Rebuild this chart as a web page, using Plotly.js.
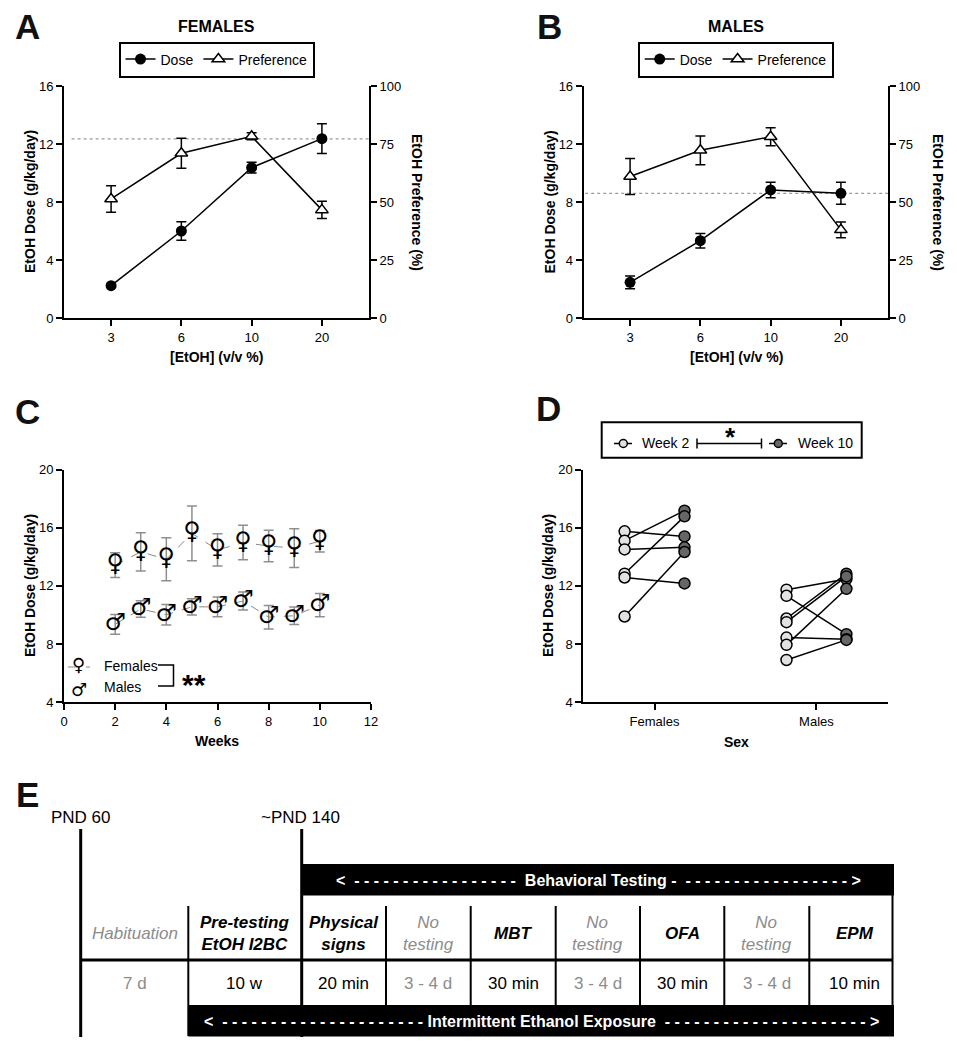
<!DOCTYPE html>
<html>
<head>
<meta charset="utf-8">
<script src="https://cdn.plot.ly/plotly-3.0.1.min.js"></script>
<style>
  html, body { margin: 0; padding: 0; background: #ffffff; }
  #chart { width: 957px; height: 1050px; }
</style>
</head>
<body>
<div id="chart"></div>
<script>
// ---------------- DATA ----------------
// Panels A & B: two-bottle choice by concentration
const concentrations = ['3', '6', '10', '20'];
const femaleDose = [2.23, 6.0, 10.37, 12.37];
const femaleDoseErr = [0, 0.63, 0.37, 1.03];
const femalePref = [51.3, 71.0, 78.3, 46.6];
const femalePrefErr = [5.7, 6.5, 1.5, 3.7];
const maleDose = [2.46, 5.33, 8.83, 8.6];
const maleDoseErr = [0.44, 0.5, 0.53, 0.76];
const malePref = [61.0, 72.3, 78.1, 38.0];
const malePrefErr = [7.8, 6.2, 3.9, 3.4];
const femaleRefDose = 12.35;
const maleRefDose = 8.6;

// Panel C: weekly intake
const weeks = [2, 3, 4, 5, 6, 7, 8, 9, 10];
const femaleWeekly = [13.43, 14.34, 13.83, 15.61, 14.47, 14.98, 14.74, 14.6, 15.07];
const femaleWeeklyErr = [0.85, 1.32, 1.48, 1.89, 1.11, 1.18, 1.08, 1.33, 0.74];
const maleWeekly = [9.36, 10.41, 10.02, 10.56, 10.56, 10.96, 9.85, 9.95, 10.68];
const maleWeeklyErr = [0.68, 0.57, 0.71, 0.56, 0.68, 0.62, 0.81, 0.6, 0.8];

// Panel D: individual week 2 vs week 10
const sexes = ['Females', 'Males'];
const femaleWeek2 = [15.75, 15.11, 14.51, 12.84, 12.58, 9.9];
const femaleWeek10 = [15.4, 17.17, 14.65, 16.78, 12.17, 14.33];
const maleWeek2 = [11.74, 11.32, 9.76, 9.51, 8.45, 7.95, 6.91];
const maleWeek10 = [12.47, 8.68, 12.84, 12.65, 8.34, 11.8, 8.29];
const weekLabels = ['Week 2', 'Week 10'];

// Panel E: timeline
const phases = ['Habituation', 'Pre-testing<br>EtOH I2BC', 'Physical<br>signs', 'No<br>testing', 'MBT',
                'No<br>testing', 'OFA', 'No<br>testing', 'EPM'];
const durations = ['7 d', '10 w', '20 min', '3 - 4 d', '30 min', '3 - 4 d', '30 min', '3 - 4 d', '10 min'];
const milestones = ['PND 60', '~PND 140'];
const bandLabels = ['Behavioral Testing', 'Intermittent Ethanol Exposure'];

// ---------------- HELPERS ----------------
const W = 957, H = 1050;
const PX = x => x / W;
const PY = y => 1 - y / H;
const FONT = 'Liberation Sans, Arial, sans-serif';
const GRAY_TXT = '#8c8c8c';
const GLYPH_FONT = { family: 'DejaVu Sans', size: 24, color: 'black', weight: 'bold' };
const LEG_GLYPH_FONT = { family: 'DejaVu Sans', size: 18, color: 'black', weight: 'bold' };

const traces = [];

function doseTraces(dose, doseErr, pref, prefErr, xa, yaDose, yaPref, legendId) {
  traces.push({
    type: 'scatter', mode: 'lines+markers', name: 'Dose', legend: legendId,
    x: concentrations, y: dose, xaxis: xa, yaxis: yaDose,
    line: { color: 'black', width: 1.5 },
    marker: { symbol: 'circle', size: 11, color: 'black' },
    error_y: { type: 'data', array: doseErr, visible: true, color: 'black', thickness: 1.5, width: 5 }
  });
  traces.push({
    type: 'scatter', mode: 'lines+markers', name: 'Preference', legend: legendId,
    x: concentrations, y: pref, xaxis: xa, yaxis: yaPref,
    line: { color: 'black', width: 1.5 },
    marker: { symbol: 'triangle-up', size: 11, color: 'white', line: { color: 'black', width: 1.5 } },
    error_y: { type: 'data', array: prefErr, visible: true, color: 'black', thickness: 1.5, width: 5 }
  });
}
doseTraces(femaleDose, femaleDoseErr, femalePref, femalePrefErr, 'x', 'y', 'y2', 'legend');
doseTraces(maleDose, maleDoseErr, malePref, malePrefErr, 'x2', 'y3', 'y4', 'legend2');

// Panel C
function weeklyTrace(vals, errs, glyph) {
  traces.push({
    type: 'scatter', mode: 'lines+text', showlegend: false,
    x: weeks, y: vals, xaxis: 'x3', yaxis: 'y5',
    text: vals.map(() => glyph), textposition: 'middle center',
    textfont: GLYPH_FONT,
    line: { color: '#888888', width: 1, dash: 'dash' },
    error_y: { type: 'data', array: errs, visible: true, color: '#8f8f8f', thickness: 1.5, width: 5 },
    cliponaxis: false
  });
}
weeklyTrace(femaleWeekly, femaleWeeklyErr, '\u2640');
weeklyTrace(maleWeekly, maleWeeklyErr, '\u2642');

// Panel D
const OFF = 0.185;
const pairX = [], pairY = [], w2x = [], w2y = [], w10x = [], w10y = [];
[[femaleWeek2, femaleWeek10], [maleWeek2, maleWeek10]].forEach((grp, gi) => {
  grp[0].forEach((v, i) => {
    pairX.push(gi - OFF, gi + OFF, null);
    pairY.push(v, grp[1][i], null);
    w2x.push(gi - OFF); w2y.push(v);
    w10x.push(gi + OFF); w10y.push(grp[1][i]);
  });
});
traces.push({ type: 'scatter', mode: 'lines', showlegend: false, x: pairX, y: pairY,
  xaxis: 'x4', yaxis: 'y6', line: { color: 'black', width: 1.5 }, connectgaps: false });
const W2C = '#e2e2e2', W10C = '#666666';
traces.push({ type: 'scatter', mode: 'markers', showlegend: false, name: weekLabels[0], x: w2x, y: w2y, xaxis: 'x4', yaxis: 'y6',
  marker: { size: 11, color: W2C, line: { color: 'black', width: 1.5 } } });
traces.push({ type: 'scatter', mode: 'markers', showlegend: false, name: weekLabels[1], x: w10x, y: w10y, xaxis: 'x4', yaxis: 'y6',
  marker: { size: 11, color: W10C, line: { color: 'black', width: 1.5 } } });

// ---------------- LAYOUT ----------------
const axBase = {
  showline: true, linecolor: 'black', linewidth: 2, ticks: 'outside', ticklen: 6, tickwidth: 2,
  tickcolor: 'black', showgrid: false, zeroline: false, tickfont: { size: 13, color: 'black', family: FONT },
  fixedrange: true
};
const yDomAB = [PY(318), PY(86)];
const yDomCD = [PY(702.3), PY(469.5)];

const layout = {
  width: W, height: H, margin: { l: 0, r: 0, t: 0, b: 0 },
  paper_bgcolor: 'white', plot_bgcolor: 'rgba(0,0,0,0)',
  font: { family: FONT, color: 'black', size: 14 },
  xaxis: Object.assign({}, axBase, { domain: [PX(64), PX(369)], anchor: 'y', type: 'category', range: [-0.67, 3.67] }),
  yaxis: Object.assign({}, axBase, { domain: yDomAB, anchor: 'x', range: [0, 16], dtick: 4, tick0: 0 }),
  yaxis2: Object.assign({}, axBase, { overlaying: 'y', side: 'right', anchor: 'x', range: [0, 100], dtick: 25, tick0: 0 }),
  xaxis2: Object.assign({}, axBase, { domain: [PX(583.7), PX(888)], anchor: 'y3', type: 'category', range: [-0.66, 3.67] }),
  yaxis3: Object.assign({}, axBase, { domain: yDomAB, anchor: 'x2', range: [0, 16], dtick: 4, tick0: 0 }),
  yaxis4: Object.assign({}, axBase, { overlaying: 'y3', side: 'right', anchor: 'x2', range: [0, 100], dtick: 25, tick0: 0 }),
  xaxis3: Object.assign({}, axBase, { domain: [PX(64), PX(371)], anchor: 'y5', range: [0, 12], dtick: 2, tick0: 0 }),
  yaxis5: Object.assign({}, axBase, { domain: yDomCD, anchor: 'x3', range: [4, 20], dtick: 4, tick0: 4 }),
  xaxis4: Object.assign({}, axBase, { domain: [PX(583.3), PX(887.7)], anchor: 'y6', range: [-0.44, 1.44],
    tickvals: [0, 1], ticktext: sexes }),
  yaxis6: Object.assign({}, axBase, { domain: yDomCD, anchor: 'x4', range: [4, 20], dtick: 4, tick0: 4 }),
  legend: { x: PX(216.5), xanchor: 'center', y: PY(41.5), yanchor: 'top', orientation: 'h',
    bordercolor: 'black', borderwidth: 2, bgcolor: 'white', font: { size: 14, color: 'black' }, itemclick: false },
  legend2: { x: PX(735.7), xanchor: 'center', y: PY(41.5), yanchor: 'top', orientation: 'h',
    bordercolor: 'black', borderwidth: 2, bgcolor: 'white', font: { size: 14, color: 'black' }, itemclick: false },
  shapes: [], annotations: []
};

const S = layout.shapes, A = layout.annotations;
function ann(x, y, text, opts) {
  A.push(Object.assign({ xref: 'paper', yref: 'paper', x: PX(x), y: PY(y), text: text, showarrow: false,
    xanchor: 'center', yanchor: 'middle', font: { family: FONT, size: 14, color: 'black' } }, opts || {}));
}
function line(x0, y0, x1, y1, w, color, dash) {
  S.push({ type: 'line', xref: 'paper', yref: 'paper', x0: PX(x0), y0: PY(y0), x1: PX(x1), y1: PY(y1),
    line: { color: color || 'black', width: w, dash: dash || 'solid' } });
}
function rect(x0, y0, x1, y1, color, border, bw) {
  S.push({ type: 'rect', xref: 'paper', yref: 'paper', x0: PX(x0), y0: PY(y0), x1: PX(x1), y1: PY(y1),
    fillcolor: color, line: { width: bw || 0, color: border || color } });
}
function dot(x, y, r, fill) {
  S.push({ type: 'circle', xref: 'paper', yref: 'paper', xsizemode: 'pixel', ysizemode: 'pixel',
    xanchor: PX(x), yanchor: PY(y), x0: -r, x1: r, y0: -r, y1: r,
    fillcolor: fill, line: { color: 'black', width: 1.5 } });
}

// reference dotted lines A & B
S.push({ type: 'line', xref: 'x domain', yref: 'y', x0: 0.025, x1: 1, y0: femaleRefDose, y1: femaleRefDose,
  line: { color: '#9a9a9a', width: 1.2, dash: 'dot' }, layer: 'below' });
S.push({ type: 'line', xref: 'x2 domain', yref: 'y3', x0: 0.005, x1: 1, y0: maleRefDose, y1: maleRefDose,
  line: { color: '#9a9a9a', width: 1.2, dash: 'dot' }, layer: 'below' });

// panel letters
const letterFont = { family: FONT, size: 35, color: '#111', weight: 'bold' };
ann(27.5, 27, '<b>A</b>', { font: letterFont });
ann(549, 27, '<b>B</b>', { font: letterFont });
ann(27.5, 411, '<b>C</b>', { font: letterFont });
ann(548.5, 408, '<b>D</b>', { font: letterFont });
ann(27.5, 794, '<b>E</b>', { font: letterFont });

// panel titles
ann(216.5, 27, '<b>FEMALES</b>', { font: { family: FONT, size: 16, color: 'black' } });
ann(736, 27, '<b>MALES</b>', { font: { family: FONT, size: 16, color: 'black' } });

// axis titles
const tf = { family: FONT, size: 14, color: 'black' };
const yTitle = '<b>EtOH Dose (g/kg/day)</b>';
ann(30, 202, yTitle, { textangle: -90, font: tf });
ann(417, 202, '<b>EtOH Preference (%)</b>', { textangle: 90, font: tf });
ann(216.5, 357, '<b>[EtOH] (v/v %)</b>', { font: tf });
ann(549.5, 202, yTitle, { textangle: -90, font: tf });
ann(938, 202, '<b>EtOH Preference (%)</b>', { textangle: 90, font: tf });
ann(736, 357, '<b>[EtOH] (v/v %)</b>', { font: tf });
ann(30, 586, yTitle, { textangle: -90, font: tf });
ann(217, 741, '<b>Weeks</b>', { font: tf });
ann(548, 586, yTitle, { textangle: -90, font: tf });
ann(736, 742, '<b>Sex</b>', { font: tf });

// panel C legend (manual, glyph symbols)
line(68, 667, 90, 667, 1, '#888888', 'dash');
ann(78, 664.5, '\u2640', { font: LEG_GLYPH_FONT });
ann(79, 689, '\u2642', { font: LEG_GLYPH_FONT });
ann(101.5, 665.5, 'Females', { xanchor: 'left' });
ann(101.5, 687, 'Males', { xanchor: 'left' });
S.push({ type: 'path', xref: 'paper', yref: 'paper',
  path: `M${PX(158)},${PY(665)} L${PX(173.5)},${PY(665)} L${PX(173.5)},${PY(686)} L${PX(158)},${PY(686)}`,
  line: { color: 'black', width: 1.5 } });
ann(194, 684, '<b>**</b>', { font: { family: FONT, size: 30, color: 'black' } });

// panel D legend (manual box with bracket)
rect(601.7, 422.3, 861.7, 457.7, 'white', 'black', 2);
line(614, 443.5, 632, 443.5, 1.5);
dot(623.3, 443.5, 4, W2C);
ann(640, 443.5, weekLabels[0], { xanchor: 'left' });
line(769, 443.5, 787, 443.5, 1.5);
dot(778.3, 443.5, 4, W10C);
ann(796, 443.5, weekLabels[1], { xanchor: 'left' });
line(697, 443.5, 761.5, 443.5, 1.5);
line(697, 438.5, 697, 448.5, 1.5);
line(761.5, 438.5, 761.5, 448.5, 1.5);
ann(730, 437, '<b>*</b>', { font: { family: FONT, size: 26, color: 'black' } });

// ---------------- PANEL E ----------------
const colEdges = [80.7, 188.3, 301.7, 386, 470.7, 555.7, 640, 724.3, 809.3, 892];
// milestones
ann(81, 817, milestones[0], { font: { family: FONT, size: 17, color: 'black' } });
ann(300, 817, milestones[1], { font: { family: FONT, size: 17, color: 'black' } });
// black bands
rect(301.7, 864, 894, 895.5, 'black');
rect(188.3, 1005, 894, 1036.5, 'black');
// main verticals
line(80.7, 829, 80.7, 1037, 3);
line(301.7, 829, 301.7, 1037, 3);
// horizontal divider
line(80.7, 960, 892, 960, 3);
// right border
line(892.5, 895, 892.5, 1005, 2);
// column separators
colEdges.slice(1, -1).forEach(xe => {
  if (Math.abs(xe - 301.7) < 1) return;
  const yEnd = Math.abs(xe - 188.3) < 1 ? 1036 : 1005;
  line(xe, 906, xe, yEnd, 2);
});
// cell texts
phases.forEach((p, i) => {
  const cx = (colEdges[i] + colEdges[i + 1]) / 2 + (i === phases.length - 1 ? 4 : 0);
  const rest = p === 'Habituation' || p.indexOf('No') === 0;
  const txt = rest ? '<i>' + p + '</i>' : '<b><i>' + p + '</i></b>';
  ann(cx, 933, txt, { font: { family: FONT, size: 17, color: rest ? GRAY_TXT : 'black' } });
  ann(cx, 983, durations[i], { font: { family: FONT, size: 17, color: rest ? GRAY_TXT : 'black' } });
});
// band texts
const nb = '\u00a0';
const dashes = n => Array(n).fill('-').join(nb);
ann(598, 880.5, '<b>&lt;' + nb + nb + dashes(17) + nb + nb + bandLabels[0] + nb + '-' + nb + nb + dashes(17) + nb + '&gt;</b>',
  { font: { family: FONT, size: 16, color: 'white' } });
ann(541, 1021, '<b>&lt;' + nb + nb + dashes(21) + nb + bandLabels[1] + nb + nb + dashes(21) + nb + '&gt;</b>',
  { font: { family: FONT, size: 16, color: 'white' } });

Plotly.newPlot('chart', traces, layout, { staticPlot: true, displayModeBar: false });
</script>
</body>
</html>
